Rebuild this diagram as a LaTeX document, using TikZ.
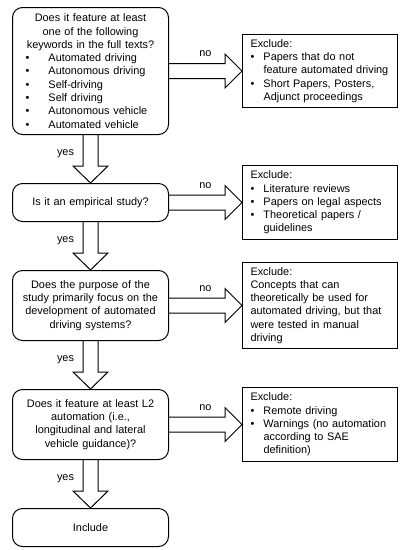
\documentclass[tikz,border=0pt]{standalone}
\usepackage{fontspec}
\setmainfont{Liberation Sans}
\usetikzlibrary{positioning,calc}

\newcommand{\kwitem}[1]{\makebox[148pt][l]{\hspace*{9pt}\makebox[23pt][l]{\textbullet}#1}}
\newcommand{\exitem}{\makebox[13pt][l]{\textbullet}}
\newcommand{\excont}{\hspace*{13pt}}

\begin{document}
\begin{tikzpicture}[
    node distance={48pt},
    every node/.style = {font=\fontsize{10.9}{13.3}\selectfont},
    question/.style = {draw, line width=1pt, rounded corners=10pt, text width=148pt, inner xsep=4pt, align=center},
    exclude/.style = {draw, line width=1pt, text width=139pt, inner xsep=8pt, inner ysep=5pt, align=left},
    blockarrow/.style = {line width=1pt}
  ]
  \useasboundingbox[fill=white] (0,0) rectangle (403pt,-550pt);

  % questions
  \node[question, minimum height=127pt, anchor=north west] (q1) at (12pt,-7pt) {Does it feature at least\\one of the following\\keywords in the full texts?\\\kwitem{Automated driving}\\\kwitem{Autonomous driving}\\\kwitem{Self-driving}\\\kwitem{Self driving}\\\kwitem{Autonomous vehicle}\\\kwitem{Automated vehicle}};
  \node[question, minimum height=38pt] (q2) [below=of q1] {Is it an empirical study?};
  \node[question, minimum height=70pt] (q3) [below=of q2] {Does the purpose of the\\study primarily focus on the\\development of automated\\driving systems?};
  \node[question, minimum height=70pt] (q4) [below=of q3] {Does it feature at least L2\\automation (i.e.,\\longitudinal and lateral\\vehicle guidance)?};
  \node[question, minimum height=38pt] (inc) [below=of q4] {Include};

  % exclusions
  \node[exclude] (e1) [right=73pt of q1] {Exclude:\\\exitem Papers that do not\\\excont feature automated driving\\\exitem Short Papers, Posters,\\\excont Adjunct proceedings};
  \node[exclude] (e2) [right=73pt of q2] {Exclude:\\\exitem Literature reviews\\\exitem Papers on legal aspects\\\exitem Theoretical papers /\\\excont guidelines};
  \node[exclude] (e3) [right=73pt of q3] {Exclude:\\Concepts that can\\theoretically be used for\\automated driving, but that\\were tested in manual\\driving};
  \node[exclude] (e4) [right=73pt of q4] {Exclude:\\\exitem Remote driving\\\exitem Warnings (no automation\\\excont according to SAE\\\excont definition)};

  % no arrows
  \foreach \a/\b in {q1/e1, q2/e2, q3/e3, q4/e4} {
    \draw[blockarrow] let \p1=(\a.east), \p2=(\b.west) in
      (\x1,\y1+7.5pt) -- (\x2-17pt,\y1+7.5pt) -- (\x2-17pt,\y1+17pt) -- (\x2,\y1)
      -- (\x2-17pt,\y1-17pt) -- (\x2-17pt,\y1-7.5pt) -- (\x1,\y1-7.5pt);
    \node at ($(\a.east)!0.5!(\b.west)+(0,17pt)$) {no};
  }

  % yes arrows
  \foreach \a/\b in {q1/q2, q2/q3, q3/q4, q4/inc} {
    \draw[blockarrow] let \p1=(\a.south), \p2=(\b.north) in
      (\x1-7.5pt,\y1) -- (\x1-7.5pt,\y2+17pt) -- (\x1-17.5pt,\y2+17pt) -- (\x1,\y2)
      -- (\x1+17.5pt,\y2+17pt) -- (\x1+7.5pt,\y2+17pt) -- (\x1+7.5pt,\y1);
    \node at ($(\a.south)+(-25pt,-19pt)$) {yes};
  }
\end{tikzpicture}
\end{document}
